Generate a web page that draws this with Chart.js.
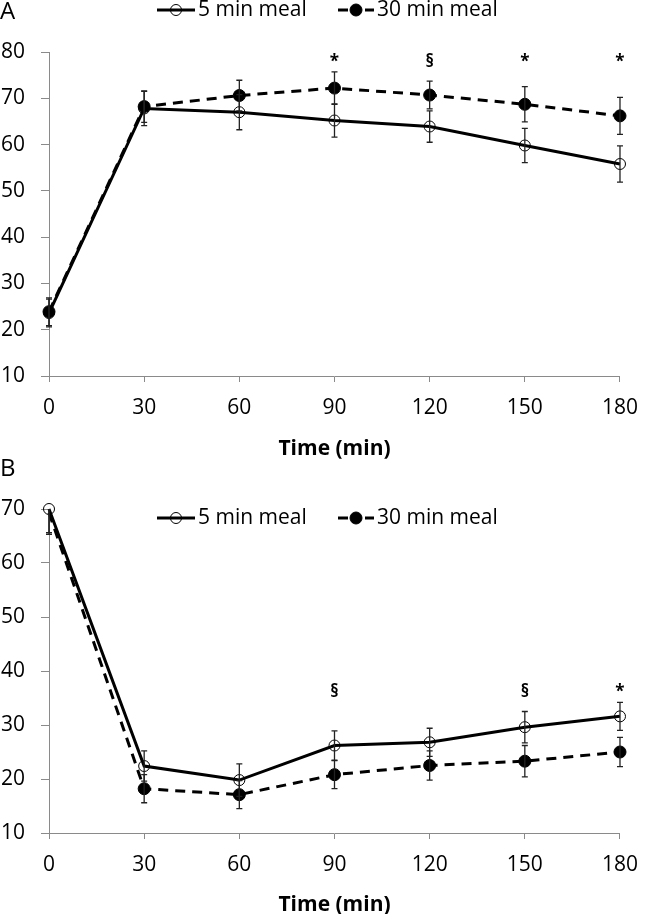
<!DOCTYPE html>
<html>
<head>
<meta charset="utf-8">
<script src="https://cdn.jsdelivr.net/npm/chart.js@4.4.1/dist/chart.umd.min.js"></script>
<style>
  html, body { margin: 0; padding: 0; background: #fff; }
  #wrap { position: relative; width: 651px; height: 914px; overflow: hidden; }
  canvas { position: absolute; left: 0; }
</style>
</head>
<body>
<div id="wrap">
  <canvas id="chartA" width="651" height="460" style="top:0"></canvas>
  <canvas id="chartB" width="651" height="459" style="top:455px"></canvas>
</div>
<script>
// time points (min)
const times = [0, 30, 60, 90, 120, 150, 180];
const seriesNames = ['5 min meal', '30 min meal'];

// panel A
const a5 = [23.6, 67.8, 67.0, 65.2, 63.9, 59.8, 55.8];
const a5Err = [3.0, 3.7, 3.8, 3.6, 3.4, 3.7, 3.9];
const a30 = [23.9, 68.2, 70.6, 72.2, 70.7, 68.7, 66.2];
const a30Err = [3.0, 3.4, 3.3, 3.5, 3.0, 3.8, 4.0];
const aSig = ['', '', '', '*', '§', '*', '*'];
const aTicksY = [10, 80];

// panel B
const b5 = [70.0, 22.4, 19.8, 26.2, 26.8, 29.6, 31.6];
const b5Err = [4.4, 2.8, 3.0, 2.7, 2.6, 2.9, 2.6];
const b30 = [69.3, 18.2, 17.1, 20.8, 22.5, 23.3, 25.0];
const b30Err = [4.0, 2.6, 2.6, 2.6, 2.7, 2.9, 2.7];
const bSig = ['', '', '', '§', '', '§', '*'];
const bTicksY = [10, 70];

const FONT = '"Open Sans", "Liberation Sans", sans-serif';
const AXIS_GREY = '#8a8a8a';

// error bars + significance marks
const errorBars = {
  id: 'errorBars',
  afterDatasetsDraw(chart, args, opts) {
    const ctx = chart.ctx;
    const xs = chart.scales.x, ys = chart.scales.y;
    const area = chart.chartArea;
    ctx.save();
    ctx.beginPath();
    ctx.rect(area.left - 10, area.top, area.right - area.left + 20, area.bottom - area.top);
    ctx.clip();
    ctx.strokeStyle = '#222';
    ctx.lineWidth = 1.3;
    chart.data.datasets.forEach((ds, i) => {
      const errs = opts.errors[i];
      ds.data.forEach((p, j) => {
        const x = xs.getPixelForValue(p.x);
        const y1 = ys.getPixelForValue(p.y - errs[j]);
        const y2 = ys.getPixelForValue(p.y + errs[j]);
        ctx.beginPath();
        ctx.moveTo(x, y1); ctx.lineTo(x, y2);
        ctx.moveTo(x - 3, y1); ctx.lineTo(x + 3, y1);
        ctx.moveTo(x - 3, y2); ctx.lineTo(x + 3, y2);
        ctx.stroke();
      });
    });
    ctx.restore();

    ctx.save();
    ctx.fillStyle = '#000';
    ctx.font = 'bold 17px ' + FONT;
    ctx.textAlign = 'center';
    ctx.textBaseline = 'alphabetic';
    opts.sig.forEach((s, j) => {
      if (!s) return;
      ctx.fillText(s, xs.getPixelForValue(times[j]), ys.getPixelForValue(opts.sigValue));
    });
    ctx.restore();
  }
};

// panel letter and legend drawn as line + marker samples
const panelDeco = {
  id: 'panelDeco',
  afterDraw(chart, args, opts) {
    const ctx = chart.ctx;
    ctx.save();
    ctx.fillStyle = '#000';
    ctx.font = '24px ' + FONT;
    ctx.textAlign = 'left';
    ctx.textBaseline = 'top';
    ctx.fillText(opts.letter, 0, opts.letterY);

    const ly = opts.legendY;
    chart.data.datasets.forEach((ds, i) => {
      const it = opts.items[i];
      const r = opts.radius[i];
      ctx.strokeStyle = '#000';
      ctx.lineWidth = 3;
      ctx.beginPath();
      if (ds.borderDash) {
        ctx.moveTo(it.x0, ly); ctx.lineTo(it.x0 + 10, ly);
        ctx.moveTo(it.x1 - 9, ly); ctx.lineTo(it.x1, ly);
      } else {
        ctx.moveTo(it.x0, ly); ctx.lineTo(it.x1, ly);
      }
      ctx.stroke();
      ctx.beginPath();
      ctx.arc((it.x0 + it.x1) / 2, ly, r, 0, Math.PI * 2);
      ctx.lineWidth = 1;
      if (ds.pointBackgroundColor !== 'rgba(0,0,0,0)') {
        ctx.fillStyle = ds.pointBackgroundColor;
        ctx.fill();
      }
      ctx.stroke();
      ctx.fillStyle = '#000';
      ctx.font = '21px ' + FONT;
      ctx.textBaseline = 'middle';
      ctx.fillText(ds.label, it.x1 + 3, ly);
    });
    ctx.restore();
  }
};

function pts(vals) {
  return vals.map((v, j) => ({ x: times[j], y: v }));
}

function makeChart(id, v5, v30, e5, e30, sig, sigValue, yRange, deco, padTop, xHeight, r30, titlePad) {
  return new Chart(document.getElementById(id), {
    type: 'line',
    data: {
      datasets: [
        {
          label: seriesNames[0],
          data: pts(v5),
          borderColor: '#000',
          borderWidth: 3,
          pointRadius: 5.5,
          pointBorderWidth: 1,
          pointBorderColor: '#000',
          pointBackgroundColor: 'rgba(0,0,0,0)',
          tension: 0,
          clip: false
        },
        {
          label: seriesNames[1],
          data: pts(v30),
          borderColor: '#000',
          borderWidth: 3,
          borderDash: [10, 7],
          pointRadius: r30,
          pointBorderWidth: 1,
          pointBorderColor: '#000',
          pointBackgroundColor: '#000',
          tension: 0,
          clip: false
        }
      ]
    },
    options: {
      responsive: false,
      animation: false,
      layout: { padding: { left: 0, top: padTop, right: 20, bottom: 0 } },
      plugins: {
        legend: { display: false },
        tooltip: { enabled: false },
        errorBars: { errors: [e5, e30], sig: sig, sigValue: sigValue },
        panelDeco: deco
      },
      scales: {
        x: {
          type: 'linear',
          min: 0, max: 180,
          grid: { drawOnChartArea: false, drawTicks: true, tickLength: 6, color: AXIS_GREY },
          border: { color: AXIS_GREY, width: 1 },
          ticks: { stepSize: 30, padding: 13, color: '#000', font: { family: FONT, size: 21 }, maxRotation: 0 },
          title: {
            display: true,
            text: 'Time (min)',
            color: '#000',
            font: { family: FONT, size: 21, weight: 'bold', lineHeight: 1 },
            padding: { top: 0, bottom: titlePad }
          },
          afterFit(scale) { scale.height = xHeight; }
        },
        y: {
          min: yRange[0], max: yRange[1],
          grid: { drawOnChartArea: false, drawTicks: true, tickLength: 8, color: AXIS_GREY },
          border: { color: AXIS_GREY, width: 1 },
          ticks: { stepSize: 10, padding: 16, color: '#000', font: { family: FONT, size: 21 } },
          afterFit(scale) { scale.width = 49; }
        }
      }
    },
    plugins: [errorBars, panelDeco]
  });
}

makeChart('chartA', a5, a30, a5Err, a30Err, aSig, 76.8, aTicksY,
  { letter: 'A', letterY: 0, legendY: 10, radius: [5.5, 6], items: [{ x0: 157, x1: 195 }, { x0: 338, x1: 374 }] },
  52, 84, 6, 0);

// in panel B the 30 min series shows no marker at time 0
makeChart('chartB', b5, b30, b5Err, b30Err, bSig, 35.2, bTicksY,
  { letter: 'B', letterY: 2, legendY: 63, radius: [5.5, 6], items: [{ x0: 157, x1: 195 }, { x0: 338, x1: 374 }] },
  54, 81, [0, 6, 6, 6, 6, 6, 6], -2);
</script>
</body>
</html>
